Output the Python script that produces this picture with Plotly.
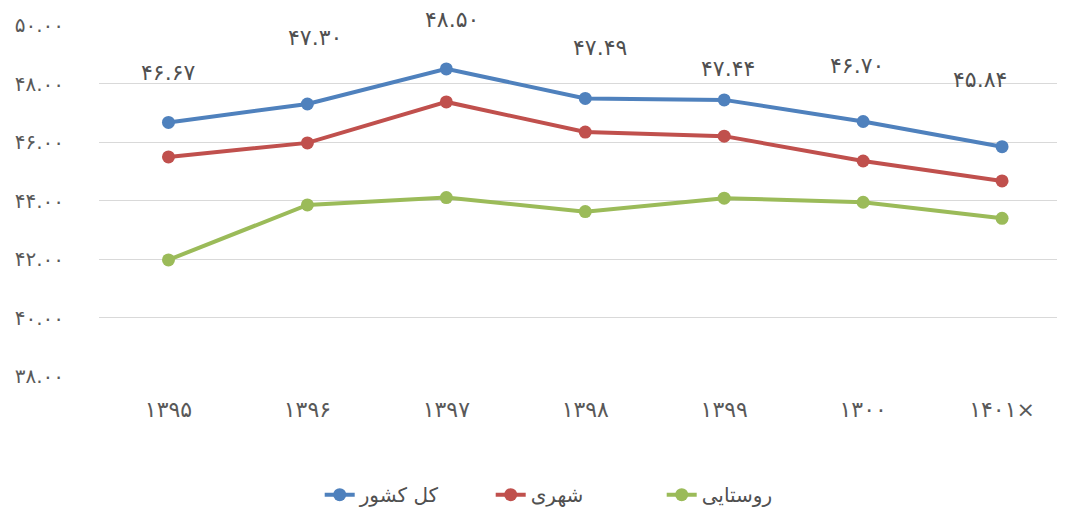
import plotly.graph_objects as go

years = ["۱۳۹۵", "۱۳۹۶", "۱۳۹۷", "۱۳۹۸", "۱۳۹۹", "۱۳۰۰", "۱۴۰۱×"]
total = [46.67, 47.30, 48.50, 47.49, 47.44, 46.70, 45.84]
urban = [45.49, 45.97, 47.37, 46.34, 46.20, 45.35, 44.67]
rural = [41.97, 43.85, 44.10, 43.62, 44.08, 43.94, 43.39]
total_labels = ["۴۶.۶۷", "۴۷.۳۰", "۴۸.۵۰", "۴۷.۴۹", "۴۷.۴۴", "۴۶.۷۰", "۴۵.۸۴"]
y_ticks = [38, 40, 42, 44, 46, 48, 50]
y_tick_text = ["۳۸.۰۰", "۴۰.۰۰", "۴۲.۰۰", "۴۴.۰۰", "۴۶.۰۰", "۴۸.۰۰", "۵۰.۰۰"]
series_names = ["کل کشور", "شهری", "روستایی"]

# label offsets (pixels) as placed in the original
label_dx = [0, 8, 6, 15, 4, -6, -22]
label_dy = [50, 66, 49, 51, 31, 56, 67]

colors = ["#4F81BD", "#C0504D", "#9BBB59"]
font_family = "DejaVu Sans"

fig = go.Figure()
for name, vals, c in zip(series_names, [total, urban, rural], colors):
    fig.add_trace(go.Scatter(
        x=years, y=vals, name=name, mode="lines+markers",
        line=dict(color=c, width=4),
        marker=dict(color=c, size=13),
    ))

for x, y, t, dx, dy in zip(years, total, total_labels, label_dx, label_dy):
    fig.add_annotation(x=x, y=y, text=t, showarrow=False,
                       xshift=dx, yshift=dy,
                       font=dict(family=font_family, size=22, color="#505050"))

# page body has an 8px default margin, so the figure is drawn 8px in from the top-left
fig.update_layout(
    width=1057, height=504,
    paper_bgcolor="white", plot_bgcolor="white",
    margin=dict(l=90.5, r=0, t=16.7, b=135.7, autoexpand=False),
    showlegend=True,
    legend=dict(orientation="h", x=0.494, xanchor="center", y=-0.338, yanchor="middle",
                font=dict(family=font_family, size=20, color="#505050"),
                entrywidth=126, entrywidthmode="pixels", tracegroupgap=0),
    font=dict(family=font_family),
)
fig.update_xaxes(
    type="category", range=[-0.5, 6.453], automargin=False,
    showgrid=False, showline=False, zeroline=False, ticks="",
    tickfont=dict(family=font_family, size=22, color="#595959"),
    ticklabelstandoff=18,
)
fig.update_yaxes(
    range=[38, 50], tickvals=y_ticks, ticktext=y_tick_text, automargin=False,
    showgrid=True, gridcolor="#D9D9D9", gridwidth=1,
    showline=False, zeroline=False, ticks="",
    tickfont=dict(family=font_family, size=20, color="#595959"),
    ticklabelstandoff=34,
)

fig.write_html("out.html")
